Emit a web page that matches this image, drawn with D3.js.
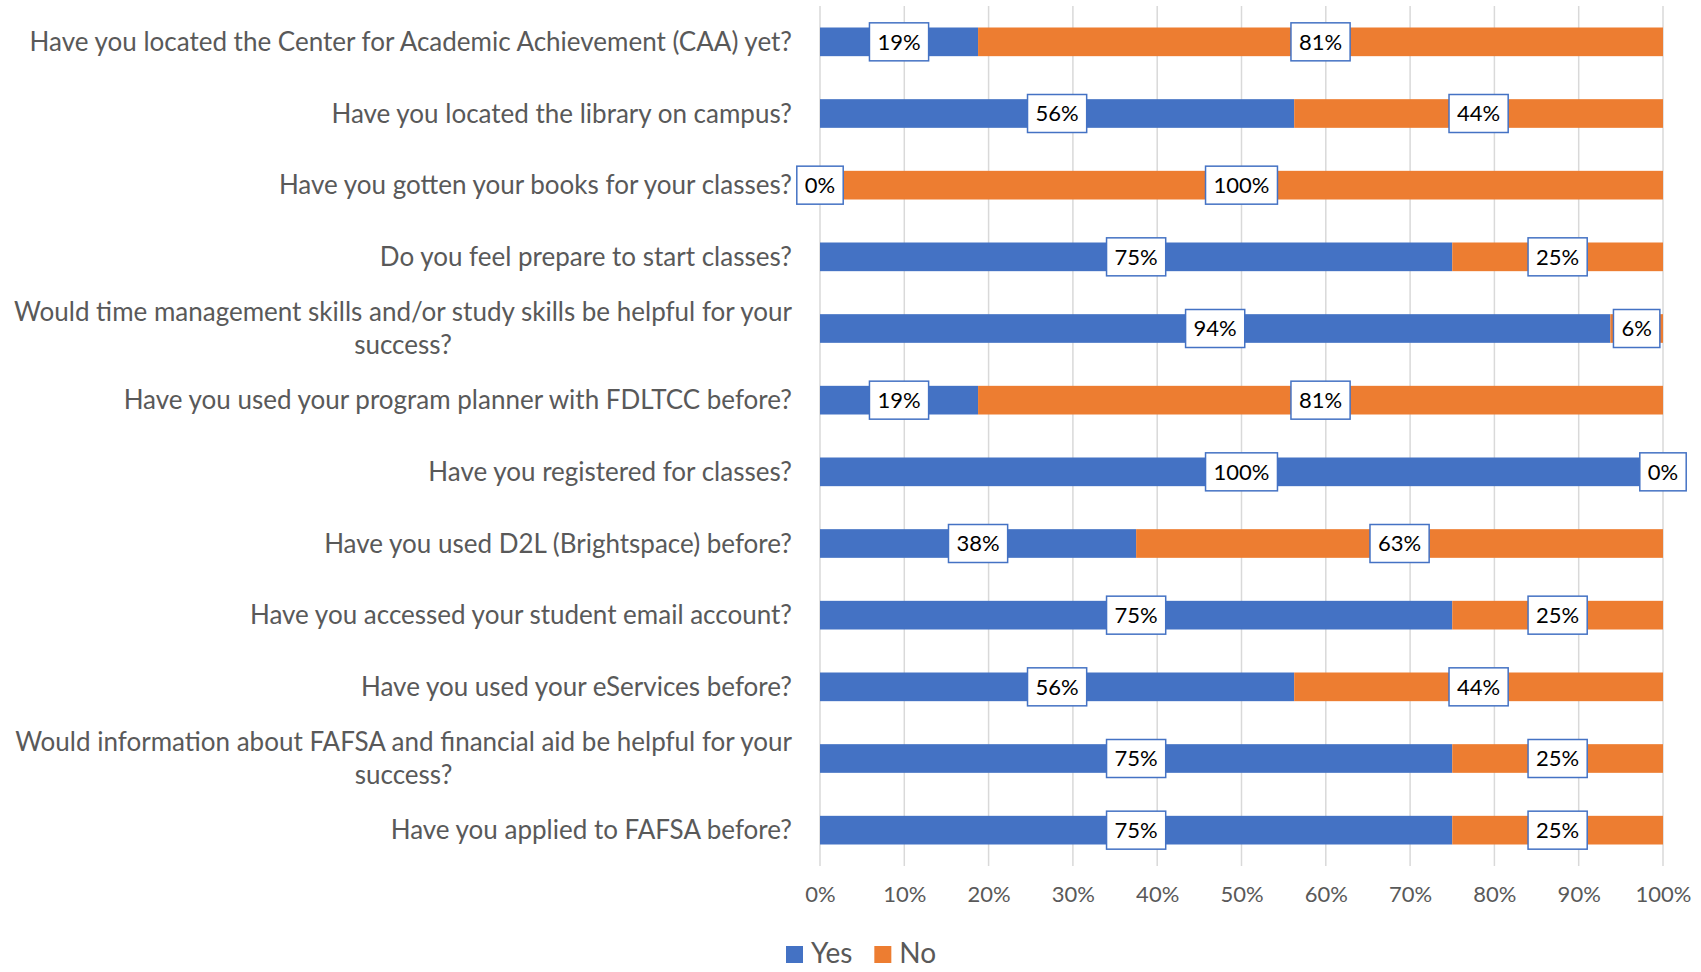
<!DOCTYPE html>
<html>
<head>
<meta charset="utf-8">
<script src="https://cdn.jsdelivr.net/npm/d3@7"></script>
<style>
  body { margin: 0; background: #fff; }
  svg text { font-family: Lato, "Open Sans", sans-serif; }
</style>
</head>
<body>
<div id="chart"></div>
<script>
// chart size
var w = 1701;
var h = 972;

// survey questions, top to bottom ("\n" marks a wrapped line)
var questions = [
  "Have you located the Center for Academic Achievement (CAA) yet?",
  "Have you located the library on campus?",
  "Have you gotten your books for your classes?",
  "Do you feel prepare to start classes?",
  "Would time management skills and/or study skills be helpful for your\nsuccess?",
  "Have you used your program planner with FDLTCC before?",
  "Have you registered for classes?",
  "Have you used D2L (Brightspace) before?",
  "Have you accessed your student email account?",
  "Have you used your eServices before?",
  "Would information about FAFSA and financial aid be helpful for your\nsuccess?",
  "Have you applied to FAFSA before?"
];

var yesValues = [18.75, 56.25, 0, 75, 93.75, 18.75, 100, 37.5, 75, 56.25, 75, 75];
var noValues  = [81.25, 43.75, 100, 25, 6.25, 81.25, 0, 62.5, 25, 43.75, 25, 25];

var seriesNames = ["Yes", "No"];
var seriesColors = ["#4472C4", "#ED7D31"];
var xTicks = [0, 10, 20, 30, 40, 50, 60, 70, 80, 90, 100];

var plotLeft = 820, plotRight = 1663, plotTop = 6, plotBottom = 866;

var xScale = d3.scaleLinear().domain([0, 100]).range([plotLeft, plotRight]);
var yScale = d3.scaleBand()
  .domain(d3.range(questions.length))
  .range([plotTop, plotBottom])
  .paddingInner(0.6)
  .paddingOuter(0.3);

var svg = d3.select("#chart").append("svg")
  .attr("width", w)
  .attr("height", h);

// vertical gridlines
svg.append("g").selectAll("line")
  .data(xTicks)
  .enter().append("line")
  .attr("x1", function(d) { return xScale(d); })
  .attr("x2", function(d) { return xScale(d); })
  .attr("y1", plotTop)
  .attr("y2", plotBottom)
  .attr("stroke", "#d9d9d9")
  .attr("stroke-width", 1.5);

// x axis labels
var xAxis = d3.axisBottom(xScale)
  .tickValues(xTicks)
  .tickSize(0)
  .tickPadding(0)
  .tickFormat(function(d) { return d + "%"; });

var xg = svg.append("g")
  .attr("transform", "translate(0," + (plotBottom + 20) + ")")
  .call(xAxis);
xg.select(".domain").remove();
xg.selectAll("text")
  .attr("font-size", 22)
  .attr("fill", "#595959")
  .style("font-family", "Lato, sans-serif");

// stacked segments
var segs = [];
questions.forEach(function(q, i) {
  segs.push({ i: i, s: 0, x0: 0, x1: yesValues[i], v: yesValues[i] });
  segs.push({ i: i, s: 1, x0: yesValues[i], x1: yesValues[i] + noValues[i], v: noValues[i] });
});

svg.append("g").selectAll("rect")
  .data(segs)
  .enter().append("rect")
  .attr("x", function(d) { return xScale(d.x0); })
  .attr("width", function(d) { return xScale(d.x1) - xScale(d.x0); })
  .attr("y", function(d) { return yScale(d.i); })
  .attr("height", yScale.bandwidth())
  .attr("fill", function(d) { return seriesColors[d.s]; });

// data labels in boxes
var fmt = d3.format(".0f");
var lab = svg.append("g").selectAll("g")
  .data(segs)
  .enter().append("g")
  .attr("transform", function(d) {
    var cx = xScale((d.x0 + d.x1) / 2);
    var cy = yScale(d.i) + yScale.bandwidth() / 2;
    return "translate(" + cx + "," + cy + ")";
  });

lab.append("text")
  .attr("text-anchor", "middle")
  .attr("dy", "0.36em")
  .attr("font-size", 22)
  .attr("fill", "#000")
  .text(function(d) { return fmt(d.v) + "%"; });

lab.each(function() {
  var g = d3.select(this);
  var tw = g.select("text").node().getComputedTextLength();
  g.insert("rect", "text")
    .attr("x", -tw / 2 - 8)
    .attr("y", -19)
    .attr("width", tw + 16)
    .attr("height", 38)
    .attr("fill", "#fff")
    .attr("stroke", "#4472C4")
    .attr("stroke-width", 1.5);
});

// category labels
var catG = svg.append("g").selectAll("text")
  .data(questions)
  .enter().append("text")
  .attr("font-size", 26)
  .attr("fill", "#595959")
  .attr("text-anchor", "end");

catG.each(function(q, i) {
  var lines = q.split("\n");
  var t = d3.select(this);
  var cy = yScale(i) + yScale.bandwidth() / 2;
  var lh = 33;
  var y0 = cy - (lines.length - 1) * lh / 2;
  var first = t.append("tspan")
    .attr("x", 792)
    .attr("y", y0)
    .attr("dy", "0.35em")
    .text(lines[0]);
  if (lines.length > 1) {
    var lw = first.node().getComputedTextLength();
    t.append("tspan")
      .attr("x", 792 - lw / 2)
      .attr("y", y0 + lh)
      .attr("dy", "0.35em")
      .attr("text-anchor", "middle")
      .text(lines[1]);
  }
});

// legend
var legend = svg.append("g").attr("transform", "translate(786,946)");
var lx = 0;
seriesNames.forEach(function(name, k) {
  var item = legend.append("g").attr("transform", "translate(" + lx + ",0)");
  item.append("rect")
    .attr("width", 17)
    .attr("height", 17)
    .attr("fill", seriesColors[k]);
  var t = item.append("text")
    .attr("x", 25)
    .attr("y", 17)
    .attr("font-size", 28)
    .attr("fill", "#595959")
    .text(name);
  lx += 25 + t.node().getComputedTextLength() + 22;
});
</script>
</body>
</html>
